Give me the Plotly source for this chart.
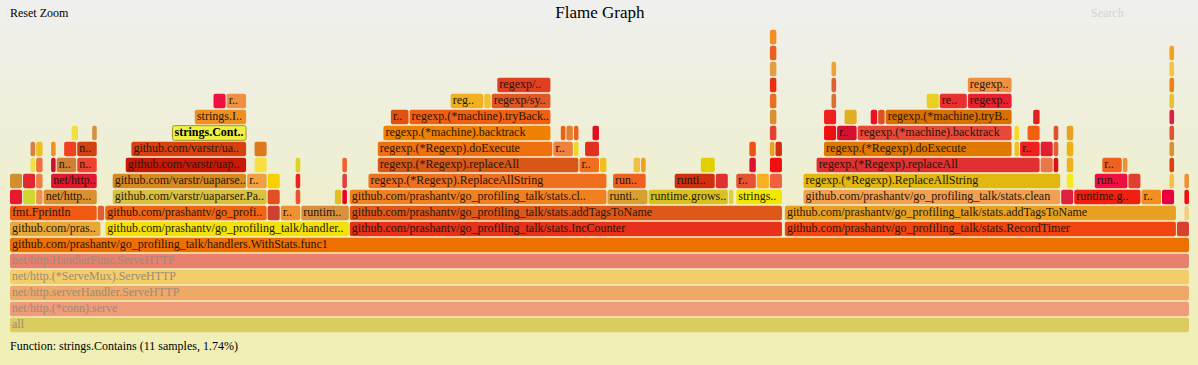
import plotly.graph_objects as go

TOTAL_SAMPLES = 632

# ---- frames per depth: (start sample, sample count, label) ----
frames_d00 = [(0, 632, "all")]
frames_d01 = [(0, 632, "net/http.(*conn).serve")]
frames_d02 = [(0, 632, "net/http.serverHandler.ServeHTTP")]
frames_d03 = [(0, 632, "net/http.(*ServeMux).ServeHTTP")]
frames_d04 = [(0, 632, "net/http.HandlerFunc.ServeHTTP")]
frames_d05 = [(0, 632, "github.com/prashantv/go_profiling_talk/handlers.WithStats.func1")]
frames_d06 = [(0, 49, "github.com/pras.."), (51, 131, "github.com/prashantv/go_profiling_talk/handler.."),
              (182, 232, "github.com/prashantv/go_profiling_talk/stats.IncCounter"),
              (415, 210, "github.com/prashantv/go_profiling_talk/stats.RecordTimer"), (625, 7, "")]
frames_d07 = [(0, 47, "fmt.Fprintln"), (47, 4, ""), (51, 87, "github.com/prashantv/go_profi.."), (138, 7, ""),
              (145, 11, "r.."), (156, 26, "runtim.."),
              (182, 232, "github.com/prashantv/go_profiling_talk/stats.addTagsToName"),
              (415, 210, "github.com/prashantv/go_profiling_talk/stats.addTagsToName"), (629, 3, "")]
frames_d08 = [(0, 7, ""), (7, 7, ""), (14, 4, ""), (18, 29, "net/http..."), (55, 83, "github.com/varstr/uaparser.Pa.."),
              (138, 7, ""), (153, 3, ""), (174, 4, ""), (178, 3, ""),
              (182, 138, "github.com/prashantv/go_profiling_talk/stats.cl.."), (320, 22, "runti.."),
              (342, 43, "runtime.grows.."), (385, 3, ""), (389, 25, "strings.."),
              (425, 138, "github.com/prashantv/go_profiling_talk/stats.clean"), (563, 7, ""),
              (570, 36, "runtime.g.."), (606, 11, "r.."), (617, 7, ""), (629, 3, "")]
frames_d09 = [(0, 7, ""), (7, 7, ""), (14, 4, ""), (22, 25, "net/http.."), (55, 72, "github.com/varstr/uaparse.."),
              (127, 11, "r.."), (138, 7, ""), (153, 3, ""), (178, 3, ""),
              (192, 128, "regexp.(*Regexp).ReplaceAllString"), (323, 18, "run.."), (356, 22, "runti.."),
              (378, 7, ""), (389, 11, "r.."), (400, 7, ""), (407, 7, ""),
              (425, 138, "regexp.(*Regexp).ReplaceAllString"), (566, 4, ""), (581, 18, "run.."),
              (599, 7, ""), (621, 3, ""), (629, 3, "")]
frames_d10 = [(11, 3, ""), (14, 4, ""), (22, 3, ""), (25, 11, "n.."), (36, 11, "n.."), (62, 65, "github.com/varstr/uap.."),
              (131, 7, ""), (153, 3, ""), (178, 3, ""), (197, 108, "regexp.(*Regexp).replaceAll"), (305, 11, "r.."),
              (316, 4, ""), (334, 4, ""), (338, 3, ""), (370, 8, ""), (396, 4, ""), (407, 7, ""),
              (432, 120, "regexp.(*Regexp).replaceAll"), (552, 7, ""), (559, 3, ""), (566, 4, ""),
              (585, 11, "r.."), (596, 3, ""), (621, 3, "")]
frames_d11 = [(11, 3, ""), (14, 4, ""), (22, 3, ""), (29, 7, ""), (36, 11, "n.."), (65, 62, "github.com/varstr/ua.."),
              (131, 7, ""), (197, 94, "regexp.(*Regexp).doExecute"), (291, 11, "r.."), (302, 3, ""), (308, 8, ""),
              (396, 4, ""), (407, 3, ""), (410, 4, ""), (436, 101, "regexp.(*Regexp).doExecute"), (538, 3, ""),
              (541, 11, "r.."), (552, 7, ""), (559, 3, ""), (566, 4, ""), (621, 3, "")]
frames_d12 = [(33, 4, ""), (44, 3, ""), (87, 40, "strings.Cont.."), (200, 90, "regexp.(*machine).backtrack"),
              (295, 3, ""), (298, 4, ""), (302, 3, ""), (312, 4, ""), (407, 4, ""), (436, 7, ""), (443, 11, "r.."),
              (454, 83, "regexp.(*machine).backtrack"), (538, 3, ""), (545, 7, ""), (559, 3, ""), (566, 4, ""),
              (621, 3, "")]
frames_d13 = [(99, 28, "strings.I.."), (204, 10, "r.."), (214, 76, "regexp.(*machine).tryBack.."), (407, 4, ""),
              (436, 7, ""), (447, 7, ""), (461, 4, ""), (465, 4, ""), (469, 68, "regexp.(*machine).tryB.."),
              (548, 4, ""), (621, 3, "")]
frames_d14 = [(109, 7, ""), (116, 11, "r.."), (236, 18, "reg.."), (254, 4, ""), (258, 32, "regexp/sy.."),
              (407, 4, ""), (440, 3, ""), (491, 7, ""), (498, 15, "re.."), (513, 24, "regexp.."), (621, 3, "")]
frames_d15 = [(261, 29, "regexp/.."), (407, 4, ""), (440, 3, ""), (513, 24, "regexp.."), (621, 3, "")]
frames_d16 = [(407, 4, ""), (440, 3, ""), (621, 3, "")]
frames_d17 = [(407, 4, ""), (621, 3, "")]
frames_d18 = [(407, 4, "")]

# ---- frame colours per depth (style) ----
colors_d00 = ["#dccb5e"]
colors_d01 = ["#f09b7a"]
colors_d02 = ["#eea968"]
colors_d03 = ["#f2cd6a"]
colors_d04 = ["#e8806e"]
colors_d05 = ["#ee7000"]
colors_d06 = ["#e8a838", "#f2e20a", "#e8301a", "#f24410", "#d84030"]
colors_d07 = ["#f05a12", "#e06030", "#f06412", "#d04030", "#f09030", "#d8903c", "#e05818", "#e8a020", "#f0d080"]
colors_d08 = ["#e81830", "#d0d830", "#f09050", "#d89030", "#d8c040", "#e05020", "#f05030", "#e0c020", "#f00020",
              "#f08020", "#d8a030", "#d8c020", "#e0d040", "#f0e800", "#f0a050", "#e02040", "#f02010", "#f09020",
              "#e80040", "#f01010"]
colors_d09 = ["#d09030", "#e02830", "#e88040", "#e01830", "#d88a20", "#f0a040", "#f8d000", "#f02020", "#e04040",
              "#f07020", "#f06020", "#d03010", "#e03030", "#e85030", "#f8b020", "#f06040", "#e0b810", "#f8e820",
              "#f01040", "#e04030", "#f8c040", "#f09030"]
colors_d10 = ["#f0e040", "#f07040", "#d01030", "#d08030", "#f04030", "#c81808", "#f8e040", "#e0d020", "#f06030",
              "#d85818", "#f07020", "#f0c020", "#f0c040", "#f0a020", "#e0d000", "#e01030", "#f01010", "#e03030",
              "#e87848", "#e01010", "#f0b020", "#f06020", "#f09030", "#e04010"]
colors_d11 = ["#d88040", "#f0c020", "#f09020", "#f04020", "#d04010", "#d84010", "#e07820", "#f07010", "#f08040",
              "#f0d820", "#e03020", "#f05010", "#f0a020", "#d03010", "#e07800", "#f0c020", "#f02020", "#e02030",
              "#e06030", "#f0b010", "#d89030"]
colors_d12 = ["#f0e040", "#d89040", "#f0f040", "#f08000", "#f06010", "#e08030", "#f06020", "#e01020", "#e84030",
              "#f01010", "#d81030", "#e84838", "#f8d820", "#f06010", "#e05030", "#e8a020", "#e85030"]
colors_d13 = ["#f09020", "#e05010", "#f06010", "#d89030", "#f02020", "#e0b020", "#f01020", "#e05020", "#d87000",
              "#e02020", "#e02040"]
colors_d14 = ["#f01040", "#f09040", "#f0b020", "#f0c030", "#e05828", "#e87020", "#d87030", "#e8d020", "#e83030",
              "#e82030", "#e8c030"]
colors_d15 = ["#e04020", "#e83010", "#e06030", "#f09040", "#f08010"]
colors_d16 = ["#e0a040", "#f0a030", "#f8c040"]
colors_d17 = ["#e86020", "#f8a020"]
colors_d18 = ["#f09020"]

selected_label = "strings.Cont.."
faded_depths = [0, 1, 2, 3, 4]
status_text = "Function: strings.Contains (11 samples, 1.74%)"

frame_rows = [frames_d00, frames_d01, frames_d02, frames_d03, frames_d04, frames_d05, frames_d06, frames_d07,
              frames_d08, frames_d09, frames_d10, frames_d11, frames_d12, frames_d13, frames_d14, frames_d15,
              frames_d16, frames_d17, frames_d18]
color_rows = [colors_d00, colors_d01, colors_d02, colors_d03, colors_d04, colors_d05, colors_d06, colors_d07,
              colors_d08, colors_d09, colors_d10, colors_d11, colors_d12, colors_d13, colors_d14, colors_d15,
              colors_d16, colors_d17, colors_d18]

GAP = 0.55        # sample-units trimmed from each frame to leave a hairline gap
LABEL_PAD = 1.1   # sample-units of padding before a frame's label
FONT = "Liberation Serif, Times New Roman, serif"

depth, base, width, fill, lw, lc = [], [], [], [], [], []
lab_x, lab_y, lab_t, lab_c = [], [], [], []
sel_x, sel_y, sel_t = [], [], []
for d, (row, cols) in enumerate(zip(frame_rows, color_rows)):
    for (s, n, label), c in zip(row, cols):
        depth.append(d)
        base.append(s)
        width.append(n - GAP)
        fill.append(c)
        is_sel = label == selected_label
        lw.append(1 if is_sel else 0)
        lc.append("#9a9a30" if is_sel else c)
        if label:
            if is_sel:
                sel_x.append(s + LABEL_PAD); sel_y.append(d); sel_t.append(label)
            else:
                lab_x.append(s + LABEL_PAD); lab_y.append(d); lab_t.append(label)
                lab_c.append("#a08a78" if d in faded_depths else "#2a1608")

fig = go.Figure()
fig.add_trace(go.Bar(
    orientation="h", y=depth, x=width, base=base, width=0.92,
    marker=dict(color=fill, cornerradius=2, line=dict(width=lw, color=lc)),
    hoverinfo="skip", showlegend=False,
))
fig.add_trace(go.Scatter(
    x=lab_x, y=lab_y, text=lab_t, mode="text", textposition="middle right",
    textfont=dict(family=FONT, size=12, color=lab_c), hoverinfo="skip", showlegend=False, cliponaxis=False,
))
fig.add_trace(go.Scatter(
    x=sel_x, y=sel_y, text=sel_t, mode="text", textposition="middle right",
    textfont=dict(family=FONT, size=12, color="#000000", weight="bold"), hoverinfo="skip",
    showlegend=False, cliponaxis=False,
))

# background gradient (#eeeeee at top -> #eeeeb0 at bottom)
shapes = []
N = 60
y_top, y_bot = 1.045, -0.105
for i in range(N):
    f0 = i / N
    f1 = (i + 1) / N
    fm = (f0 + f1) / 2
    b = round(239 - fm * (239 - 178))
    shapes.append(dict(type="rect", xref="paper", yref="paper", x0=-0.02, x1=1.02,
                       y0=y_top - f0 * (y_top - y_bot), y1=y_top - f1 * (y_top - y_bot) - 0.001,
                       fillcolor=f"rgb(239,239,{b})", line=dict(width=0), layer="below"))

fig.update_layout(
    width=1198, height=365,
    margin=dict(l=10, r=8, t=13, b=32, pad=0),
    paper_bgcolor="#efefd0", plot_bgcolor="rgba(0,0,0,0)",
    shapes=shapes,
    xaxis=dict(range=[0, TOTAL_SAMPLES], visible=False, fixedrange=True),
    yaxis=dict(range=[-0.5, 19.5], visible=False, fixedrange=True),
    title=dict(text="Flame Graph", x=0.5008, xanchor="center", y=1 - 12 / 365, yanchor="middle",
               font=dict(family=FONT, size=17, color="#000000")),
    annotations=[
        dict(text="Reset Zoom", xref="paper", yref="paper", x=0, y=1.0, xanchor="left", yanchor="middle",
             xshift=-2, showarrow=False, font=dict(family=FONT, size=12, color="#000000")),
        dict(text="Search", xref="paper", yref="paper", x=0.9297, y=1.0, xanchor="center", yanchor="middle",
             showarrow=False, font=dict(family=FONT, size=12, color="#d4d4d0")),
        dict(text=status_text, xref="paper", yref="paper", x=0, y=-0.0406, xanchor="left", yanchor="middle",
             xshift=-2, showarrow=False, font=dict(family=FONT, size=12, color="#000000")),
    ],
    showlegend=False,
)

fig.write_html("out.html", config={"displayModeBar": False},
               post_script="document.body.style.margin='0px';document.body.style.overflow='hidden';")
